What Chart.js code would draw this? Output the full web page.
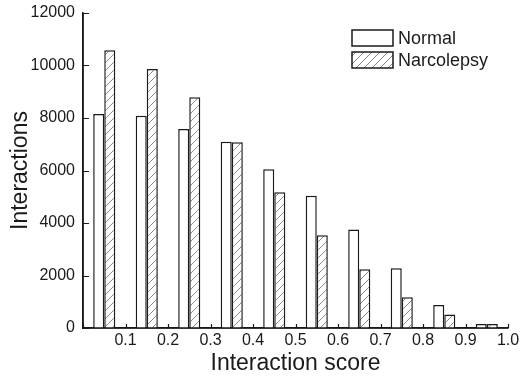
<!DOCTYPE html>
<html>
<head>
<meta charset="utf-8">
<script src="https://cdn.jsdelivr.net/npm/chart.js@4/dist/chart.umd.min.js"></script>
<style>
  html, body { margin: 0; padding: 0; background: #fff; }
  #wrap { width: 523px; height: 379px; }
</style>
</head>
<body>
<div id="wrap"><canvas id="bars" width="523" height="379"></canvas></div>
<script>
const scores = [0.05, 0.15, 0.25, 0.35, 0.45, 0.55, 0.65, 0.75, 0.85, 0.95];
const normal = [8150, 8090, 7580, 7100, 6050, 5040, 3750, 2280, 880, 150];
const narcolepsy = [10580, 9870, 8790, 7080, 5170, 3530, 2240, 1170, 510, 150];
const yTicks = [0, 2000, 4000, 6000, 8000, 10000, 12000];

const FONT = "'Liberation Sans', Arial, sans-serif";
const INK = '#1a1a1a';

// diagonal hatch fill for the second series
const makeHatch = () => {
  const c = document.createElement('canvas');
  c.width = 8; c.height = 8;
  const g = c.getContext('2d');
  g.fillStyle = '#fff';
  g.fillRect(0, 0, 8, 8);
  g.strokeStyle = '#8a8a8a';
  g.lineWidth = 1;
  g.beginPath();
  g.moveTo(0, 8); g.lineTo(8, 0);
  g.moveTo(-1, 1); g.lineTo(1, -1);
  g.moveTo(7, 9); g.lineTo(9, 7);
  g.stroke();
  return g.createPattern(c, 'repeat');
};
const hatch = makeHatch();

const toPoints = (vals) => vals.map((v, i) => ({x: scores[i], y: v}));

// axis lines redrawn over the bars, with ticks on the inside
const innerTicks = {
  id: 'innerTicks',
  afterDatasetsDraw(chart) {
    const {ctx, chartArea, scales} = chart;
    ctx.save();
    ctx.strokeStyle = INK;
    ctx.lineWidth = 1.5;
    ctx.beginPath();
    ctx.moveTo(chartArea.left, chartArea.top);
    ctx.lineTo(chartArea.left, chartArea.bottom);
    ctx.lineTo(chartArea.right, chartArea.bottom);
    ctx.stroke();
    ctx.lineWidth = 1.2;
    ctx.beginPath();
    scales.x.ticks.forEach((t) => {
      const px = Math.round(scales.x.getPixelForValue(t.value)) + 0.5;
      ctx.moveTo(px, chartArea.bottom);
      ctx.lineTo(px, chartArea.bottom - 4);
    });
    scales.y.ticks.forEach((t) => {
      const py = Math.round(scales.y.getPixelForValue(t.value)) + 0.5;
      ctx.moveTo(chartArea.left, py);
      ctx.lineTo(chartArea.left + 6, py);
    });
    ctx.stroke();
    ctx.restore();
  }
};

// boxed legend in the upper right of the plot
const boxLegend = {
  id: 'boxLegend',
  afterDraw(chart) {
    const {ctx} = chart;
    const x0 = 352, y0 = 30, w = 41, h = 16, gap = 22;
    ctx.save();
    ctx.font = '18px ' + FONT;
    ctx.textBaseline = 'middle';
    chart.data.datasets.forEach((ds, i) => {
      const y = y0 + i * gap;
      ctx.fillStyle = ds.backgroundColor;
      ctx.fillRect(x0, y, w, h);
      ctx.strokeStyle = ds.borderColor;
      ctx.lineWidth = 1.5;
      ctx.strokeRect(x0, y, w, h);
      ctx.fillStyle = INK;
      ctx.fillText(ds.label, x0 + w + 5, y + h / 2 + 1);
    });
    ctx.restore();
  }
};

new Chart(document.getElementById('bars'), {
  type: 'bar',
  data: {
    datasets: [
      {
        label: 'Normal',
        data: toPoints(normal),
        backgroundColor: '#ffffff',
        borderColor: INK,
        borderWidth: 1.5
      },
      {
        label: 'Narcolepsy',
        data: toPoints(narcolepsy),
        backgroundColor: hatch,
        borderColor: INK,
        borderWidth: 1.5
      }
    ]
  },
  options: {
    responsive: false,
    animation: false,
    layout: {padding: {left: 0, right: 15, top: 13, bottom: 0}},
    datasets: {bar: {categoryPercentage: 0.52, barPercentage: 1.0}},
    plugins: {
      legend: {display: false},
      tooltip: {enabled: false}
    },
    scales: {
      x: {
        type: 'linear',
        min: 0,
        max: 1,
        offset: false,
        grid: {display: false, drawTicks: false, offset: false},
        border: {display: true, color: INK, width: 1.5},
        ticks: {
          stepSize: 0.1,
          padding: 3,
          maxRotation: 0,
          color: INK,
          font: {family: FONT, size: 16},
          callback: (v) => (v === 0 ? '' : Number(v).toFixed(1))
        },
        title: {
          display: true,
          text: 'Interaction score',
          color: INK,
          font: {family: FONT, size: 23},
          padding: {top: 0, bottom: 2}
        },
        afterFit: (s) => { s.height = 51; s.paddingLeft = 0; s.paddingRight = 0; }
      },
      y: {
        min: 0,
        max: 12000,
        grid: {display: false, drawTicks: false},
        border: {display: true, color: INK, width: 1.5},
        afterBuildTicks: (s) => { s.ticks = yTicks.map((v) => ({value: v})); },
        ticks: {
          padding: 8,
          color: INK,
          font: {family: FONT, size: 16},
          callback: (v) => String(v)
        },
        title: {
          display: true,
          text: 'Interactions',
          color: INK,
          font: {family: FONT, size: 23},
          padding: {top: 7, bottom: 0}
        },
        afterFit: (s) => { s.width = 83; s.paddingTop = 0; s.paddingBottom = 0; }
      }
    }
  },
  plugins: [innerTicks, boxLegend]
});
</script>
</body>
</html>
